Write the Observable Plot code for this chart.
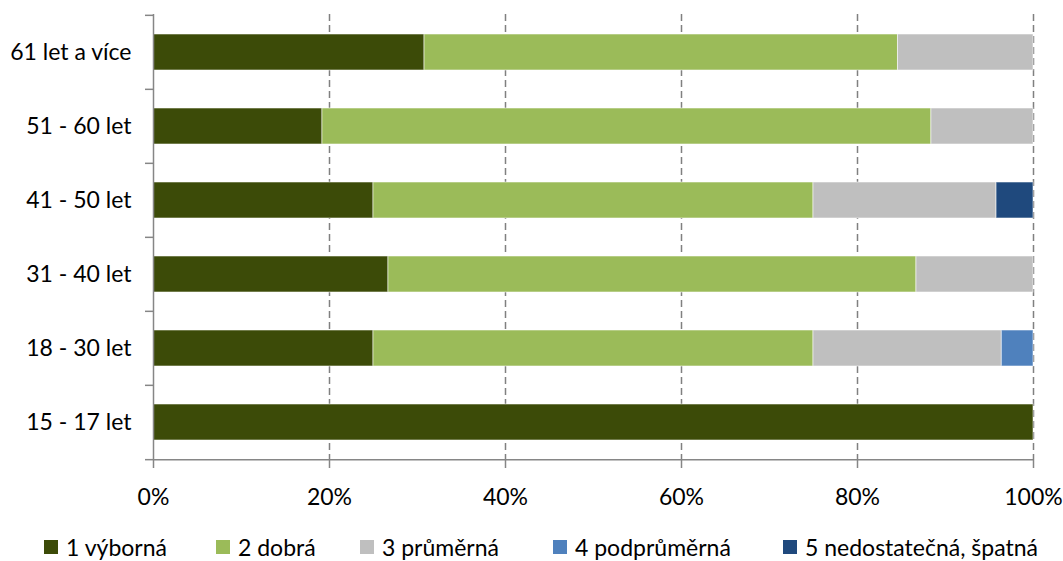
<!DOCTYPE html>
<html><head><meta charset="utf-8">
<script src="https://cdn.jsdelivr.net/npm/d3@7"></script>
<script src="https://cdn.jsdelivr.net/npm/@observablehq/plot@0.6"></script>
<style>
body{margin:0;background:#fff;font-family:Lato,"Open Sans",sans-serif;}
#wrap{position:relative;width:1063px;height:561px;}
#legend{position:absolute;left:0;top:534px;width:1063px;height:26px;}
.item{position:absolute;top:0;display:flex;align-items:center;font-size:23px;color:#000;white-space:nowrap;line-height:26px;}
.sw{width:14px;height:14px;margin-right:8px;}
</style></head><body>
<div id="wrap"><div id="chart"></div><div id="legend"></div></div>
<script>
const categories = ["61 let a více","51 - 60 let","41 - 50 let","31 - 40 let","18 - 30 let","15 - 17 let"];
const grades = ["1 výborná","2 dobrá","3 průměrná","4 podprůměrná","5 nedostatečná, špatná"];
const gradeColors = ["#3C4B08","#9BBB59","#BFBFBF","#4F81BD","#1F497D"];
const g1 = [30.8, 19.2, 25.0, 26.7, 25.0, 100];
const g2 = [53.8, 69.2, 50.0, 60.0, 50.0, 0];
const g3 = [15.4, 11.6, 20.8, 13.3, 21.4, 0];
const g4 = [0, 0, 0, 0, 3.6, 0];
const g5 = [0, 0, 4.2, 0, 0, 0];
const xTicks = [0, 20, 40, 60, 80, 100];

const series = [g1, g2, g3, g4, g5];
const data = [];
categories.forEach((c, i) => series.forEach((s, k) => data.push({category: c, grade: grades[k], value: s[i]})));

const W = 1063, H = 515, mT = 14, mB = 55, mL = 153, mR = 30;
const step = (H - mT - mB) / categories.length;
const axisColor = "#868686";

const chart = Plot.plot({
  width: W, height: H,
  marginTop: mT, marginBottom: mB, marginLeft: mL, marginRight: mR,
  style: {fontFamily: "Lato, 'Open Sans', sans-serif", fontSize: "23px", color: "#000", background: "#fff"},
  x: {domain: [0, 100], axis: null, label: null},
  y: {domain: categories, paddingInner: 0.52, paddingOuter: 0.26, axis: null, label: null},
  color: {domain: grades, range: gradeColors},
  marks: [
    Plot.gridX(xTicks.slice(1), {stroke: "#808080", strokeOpacity: 1, strokeWidth: 1.5, strokeDasharray: "7,4"}),
    Plot.barX(data, {x: "value", y: "category", fill: "grade", stroke: "#fff", strokeOpacity: 0.55, strokeWidth: 1}),
    Plot.ruleX([0], {stroke: axisColor, strokeWidth: 1.5}),
    Plot.ruleY([categories[categories.length - 1]], {dy: step / 2, stroke: axisColor, strokeWidth: 1.5}),
    Plot.axisY({tickSize: 0, tickPadding: 22, fontSize: 23, label: null}),
    Plot.axisY({text: null, tickSize: 8, dy: -step / 2, stroke: axisColor, strokeWidth: 1.5, label: null}),
    Plot.axisY([categories[categories.length - 1]], {text: null, tickSize: 8, dy: step / 2, stroke: axisColor, strokeWidth: 1.5, label: null}),
    Plot.axisX(xTicks, {tickSize: 8, tickPadding: 20, tickFormat: d => d + "%", stroke: axisColor, strokeWidth: 1.5, fontSize: 23, label: null})
  ]
});
document.getElementById("chart").append(chart);

const legendX = [44, 216, 360, 553, 783];
const legend = document.getElementById("legend");
grades.forEach((g, i) => {
  const it = document.createElement("div");
  it.className = "item";
  it.style.left = legendX[i] + "px";
  const sw = document.createElement("span");
  sw.className = "sw";
  sw.style.background = gradeColors[i];
  it.append(sw, document.createTextNode(g));
  legend.append(it);
});
</script></body></html>
